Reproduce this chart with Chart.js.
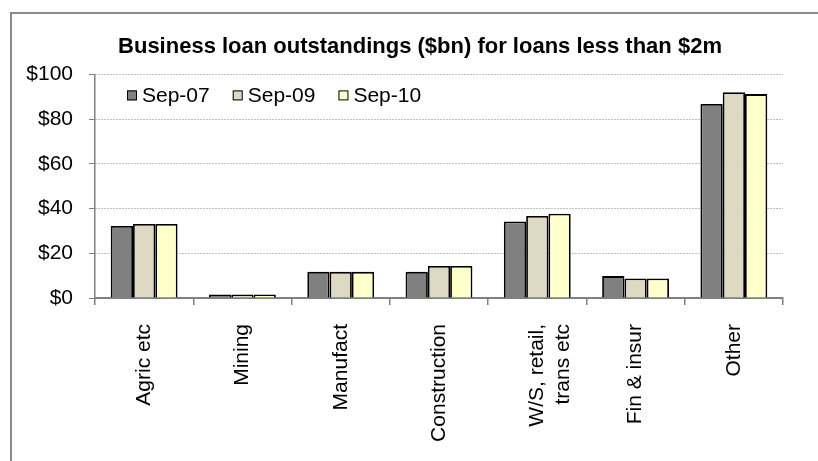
<!DOCTYPE html>
<html>
<head>
<meta charset="utf-8">
<script src="https://cdn.jsdelivr.net/npm/chart.js@4.4.0/dist/chart.umd.min.js"></script>
<style>
  html, body { margin: 0; padding: 0; background: #fff; overflow: hidden; }
  #wrap { width: 818px; height: 461px; position: relative; }
</style>
</head>
<body>
<div id="wrap"><canvas id="c"></canvas></div>
<script>
// Industry categories (the wholesale/retail label wraps onto two lines)
const categories = ['Agric etc', 'Mining', 'Manufact', 'Construction', ['W/S, retail,', 'trans etc'], 'Fin & insur', 'Other'];

// Outstandings, $bn, loans under $2m
const sep07 = [32.2, 1.6, 11.7, 11.7, 34.2, 9.8, 86.8];
const sep09 = [33.1, 1.6, 11.7, 14.3, 36.7, 8.7, 92.0];
const sep10 = [33.1, 1.6, 11.7, 14.3, 37.7, 8.7, 91.2];

const seriesLabels = ['Sep-07', 'Sep-09', 'Sep-10'];
const yMin = 0, yMax = 100, yStep = 20;

const FONT = '"Liberation Sans", Arial, sans-serif';

// Thin grey frame around the whole chart
const frame = {
  id: 'frame',
  beforeDraw(chart) {
    const ctx = chart.ctx;
    ctx.save();
    ctx.strokeStyle = '#8a8a8a';
    ctx.lineWidth = 2;
    ctx.strokeRect(11, 13, 1000, 1000);
    ctx.restore();
  }
};

// Legend drawn inside the top-left corner of the plot area
const insetLegend = {
  id: 'insetLegend',
  afterDraw(chart) {
    const { ctx, chartArea } = chart;
    ctx.save();
    ctx.font = '21px ' + FONT;
    ctx.textBaseline = 'middle';
    let x = chartArea.left + 32;
    const y = chartArea.top + 21;
    chart.data.datasets.forEach(ds => {
      ctx.fillStyle = ds.backgroundColor;
      ctx.fillRect(x, y - 5, 10, 10);
      ctx.strokeStyle = '#000';
      ctx.lineWidth = 1;
      ctx.strokeRect(x + 0.5, y - 4.5, 9, 9);
      ctx.fillStyle = '#000';
      ctx.fillText(ds.label, x + 15, y + 1);
      x += 15 + ctx.measureText(ds.label).width + 23;
    });
    ctx.restore();
  }
};

new Chart(document.getElementById('c'), {
  type: 'bar',
  data: {
    labels: categories,
    datasets: [
      { label: seriesLabels[0], data: sep07, backgroundColor: '#808080' },
      { label: seriesLabels[1], data: sep09, backgroundColor: '#DDD9C3' },
      { label: seriesLabels[2], data: sep10, backgroundColor: '#FFFFCC' }
    ].map(d => Object.assign(d, {
      borderColor: '#000',
      borderWidth: 1.8,
      borderSkipped: 'start',
      barPercentage: 1.0,
      categoryPercentage: 0.68
    }))
  },
  options: {
    responsive: true,
    maintainAspectRatio: false,
    animation: false,
    devicePixelRatio: 1,
    layout: { padding: { left: 22, right: 0, top: 0, bottom: 0 } },
    plugins: {
      legend: { display: false },
      tooltip: { enabled: false },
      title: {
        display: true,
        text: 'Business loan outstandings ($bn) for loans less than $2m',
        color: '#000',
        font: { family: FONT, size: 22, weight: 'bold' },
        padding: { top: 34, bottom: 14 }
      }
    },
    scales: {
      x: {
        grid: {
          offset: true,
          drawOnChartArea: false,
          drawTicks: true,
          tickLength: 7,
          color: '#808080',
          lineWidth: 1.5
        },
        border: { color: '#808080', width: 2 },
        ticks: {
          autoSkip: false,
          minRotation: 90,
          maxRotation: 90,
          padding: 19,
          color: '#000',
          font: { family: FONT, size: 21, lineHeight: 1.25 }
        },
        afterFit(scale) { scale.height = 163; }
      },
      y: {
        min: yMin,
        max: yMax,
        ticks: {
          stepSize: yStep,
          padding: 16,
          color: '#000',
          font: { family: FONT, size: 21 },
          callback: v => '$' + v
        },
        grid: { color: '#808080', tickColor: '#808080', tickLength: 6, lineWidth: 1 },
        border: { color: '#808080', width: 1.5, dash: [1, 2] },
        afterFit(scale) { scale.width = 73; }
      },
      r: {
        position: 'right',
        display: true,
        grid: { display: false },
        ticks: { display: false },
        border: { display: false },
        afterFit(scale) { scale.width = 35; }
      }
    }
  },
  plugins: [frame, insetLegend]
});
</script>
</body>
</html>
